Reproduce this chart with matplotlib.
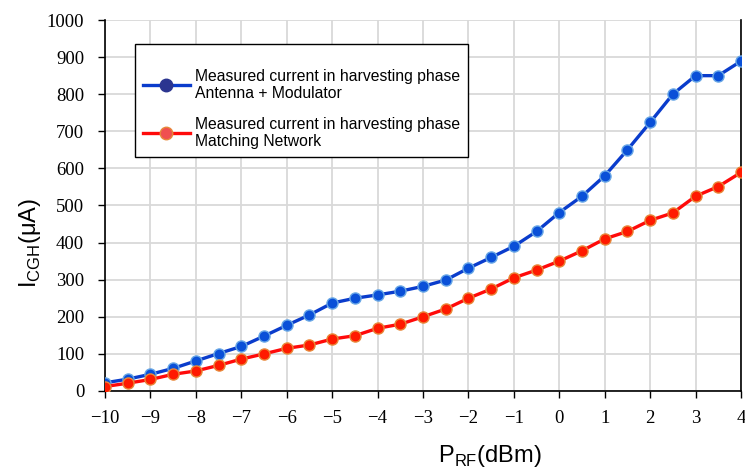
import matplotlib
matplotlib.use("Agg")
import matplotlib.pyplot as plt
from matplotlib.lines import Line2D

p_rf = [-10, -9.5, -9, -8.5, -8, -7.5, -7, -6.5, -6, -5.5, -5, -4.5, -4, -3.5, -3,
        -2.5, -2, -1.5, -1, -0.5, 0, 0.5, 1, 1.5, 2, 2.5, 3, 3.5, 4]
i_antenna = [22, 32, 45, 61, 81, 101, 120, 148, 177, 205, 237, 250, 259, 269, 282,
             299, 331, 360, 390, 430, 481, 525, 580, 650, 724, 800, 850, 850, 889]
i_matching = [12, 21, 31, 45, 54, 69, 86, 100, 115, 124, 140, 149, 169, 180, 200,
              221, 250, 275, 305, 326, 350, 378, 410, 430, 460, 480, 525, 551, 589]

x_ticks = list(range(-10, 5))
y_ticks = list(range(0, 1001, 100))
legend_labels = ["Measured current in harvesting phase\nAntenna + Modulator",
                 "Measured current in harvesting phase\nMatching Network"]

fig = plt.figure(figsize=(7.45, 4.73), dpi=100)
ax = fig.add_axes([0.141, 0.1734, 0.8536, 0.7843])

ax.plot(p_rf, i_antenna, color="#0a3ccc", lw=2.4, marker="o", ms=8,
        mfc="#0a50d8", mec="#6aa8e6", mew=1.0, zorder=3)
ax.plot(p_rf, i_matching, color="#ff0a0a", lw=2.4, marker="o", ms=8,
        mfc="#ff1a00", mec="#e8883a", mew=1.0, zorder=3)

ax.set_xlim(-10, 4)
ax.set_ylim(0, 1000)
ax.set_xticks(x_ticks)
ax.set_yticks(y_ticks)
ax.set_xticklabels([str(t).replace("-", "\u2212") for t in x_ticks],
                   family="Liberation Serif", fontsize=13.5)
ax.set_yticklabels([str(t) for t in y_ticks], family="Liberation Serif", fontsize=13.5)
ax.tick_params(direction="out", length=5, width=1, colors="black")
ax.tick_params(axis="x", pad=9)
ax.tick_params(axis="y", pad=10)

ax.grid(True, color="#d9d9d9", lw=1.3)
ax.set_axisbelow(True)
for side in ["left", "bottom", "right"]:
    ax.spines[side].set_linewidth(1.2)
    ax.spines[side].set_color("black")
ax.spines["top"].set_visible(False)

ax.set_xlabel("P$_{\\mathregular{RF}}$(dBm)", family="Liberation Sans", fontsize=17)
ax.xaxis.set_label_coords(0.605, -0.14)
ax.set_ylabel("I$_{\\mathregular{CGH}}$(\u03bcA)", family="Liberation Sans", fontsize=17)
ax.yaxis.set_label_coords(-0.097, 0.40)

handles = [
    Line2D([], [], color="#0a3ccc", lw=2.4, marker="o", ms=9, mfc="#2b3590", mec="#2b3590"),
    Line2D([], [], color="#ff0a0a", lw=2.4, marker="o", ms=9, mfc="#f05050", mec="#e8883a"),
]
# a near-empty title gives the extra room above the first entry, as in the original
leg = ax.legend(handles, legend_labels, loc="upper left", bbox_to_anchor=(0.047, 0.935),
                borderaxespad=0, prop={"family": "Liberation Sans", "size": 11.3},
                title=" ", title_fontsize=1,
                frameon=True, fancybox=False, edgecolor="black", framealpha=1,
                borderpad=0.5, labelspacing=1.0, handlelength=3.0, handletextpad=0.33)
leg.get_frame().set_linewidth(1.0)

fig.savefig("out.png", dpi=100)
